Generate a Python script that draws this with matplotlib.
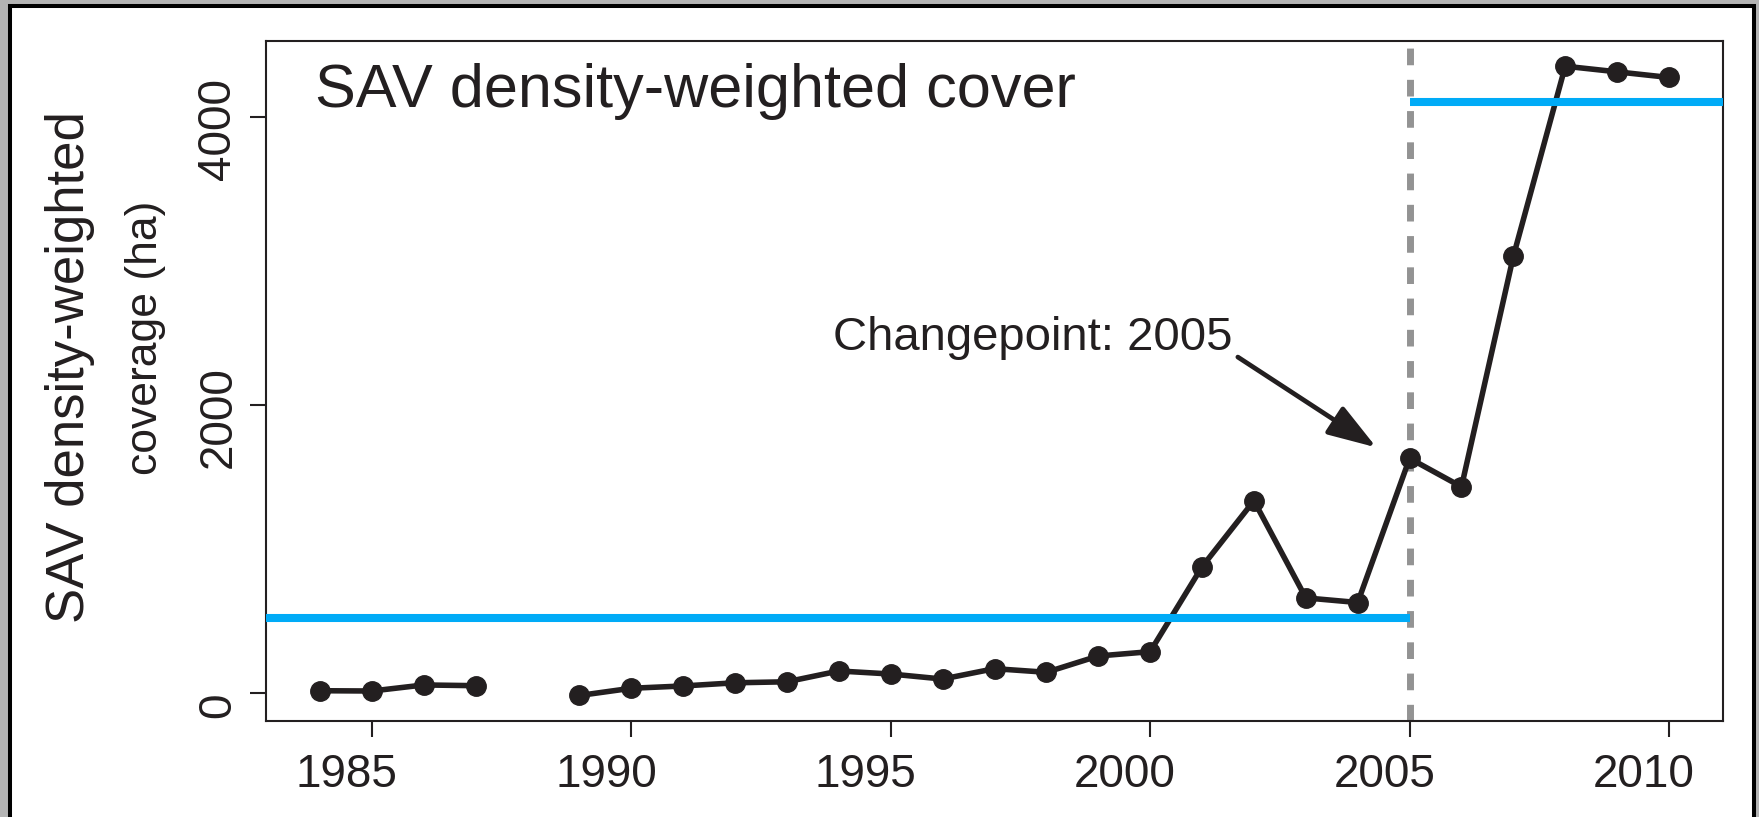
import numpy as np
import matplotlib
matplotlib.use('Agg')
import matplotlib.pyplot as plt
from matplotlib.patches import Rectangle
from matplotlib.transforms import ScaledTranslation

plt.rcParams['font.family'] = ['Liberation Sans', 'DejaVu Sans']

# Data
years = list(range(1984, 2011))
coverage = [18, 16, 58, 53, np.nan, -15, 35, 51, 73, 80, 155, 134, 99, 171,
            146, 259, 289, 878, 1336, 662, 630, 1630, 1433, 3033, 4351, 4312, 4273]
changepoint = 2005
level_before = 520
level_after = 4100
x_ticks = [1985, 1990, 1995, 2000, 2005, 2010]
y_ticks = [0, 2000, 4000]

ink = '#231f20'
blue = '#00abf7'
gray = '#939393'

W, H = 1759, 817
fig = plt.figure(figsize=(W / 100, H / 100), dpi=100)
fig.patch.set_facecolor('#b4b4b4')

# white panel with a black border, as in the screenshot
fig.patches.append(Rectangle((10 / W, -0.05), (1754 - 10) / W, 1.05 - 6 / H,
                             transform=fig.transFigure, facecolor='white',
                             edgecolor='black', lw=2.9, zorder=-10))

ax = fig.add_axes([266 / W, 1 - 720.7 / H, 1457 / W, 679.7 / H])
ax.set_xlim(1982.96, 2011.04)
ax.set_ylim(-190, 4526)

x0, x1 = ax.get_xlim()
ax.axvline(changepoint, color=gray, lw=5, linestyle=(0, (2.4, 2.1)), zorder=2)
ax.plot(years, coverage, color=ink, lw=4.0, marker='o', ms=14, zorder=3)
ax.plot([x0, changepoint], [level_before, level_before], color=blue, lw=5.8,
        solid_capstyle='butt', zorder=4)
ax.plot([changepoint, x1], [level_after, level_after], color=blue, lw=5.8,
        solid_capstyle='butt', zorder=4)

for s in ax.spines.values():
    s.set_color(ink)
    s.set_linewidth(1.5)

ax.set_xticks(x_ticks)
ax.set_yticks(y_ticks)
ax.set_yticklabels([str(v) for v in y_ticks], rotation=90, va='center')
ax.tick_params(direction='out', length=11.5, width=1.5, colors=ink, labelsize=33)
ax.tick_params(axis='x', pad=12)
ax.tick_params(axis='y', pad=7)

# labels in the original sit a little off their ticks
for lab in ax.get_xticklabels():
    lab.set_transform(lab.get_transform() + ScaledTranslation(-0.25, 0, fig.dpi_scale_trans))
for lab in ax.get_yticklabels():
    lab.set_transform(lab.get_transform() + ScaledTranslation(0, -0.12, fig.dpi_scale_trans))

fig.text(315 / W, 1 - 107 / H, 'SAV density-weighted cover', fontsize=44,
         color=ink, va='baseline', ha='left')

ax.text(1993.88, 2381, 'Changepoint: 2005', fontsize=34, color=ink,
        va='baseline', ha='left')
ax.annotate('', xy=(2004.36, 1706), xytext=(2001.69, 2333),
            arrowprops=dict(arrowstyle='-|>,head_length=1.5,head_width=0.5',
                            mutation_scale=20, lw=3.4, color=ink,
                            shrinkA=0, shrinkB=0))

# y label, two lines placed separately (the second line is set smaller)
fig.text(70 / W, 1 - 367 / H, 'SAV density-weighted', rotation=90,
         fontsize=38, color=ink, ha='center', va='center')
fig.text(145 / W, 1 - 338 / H, 'coverage (ha)', rotation=90,
         fontsize=32, color=ink, ha='center', va='center')

fig.savefig('out.png', dpi=100, facecolor=fig.get_facecolor())
